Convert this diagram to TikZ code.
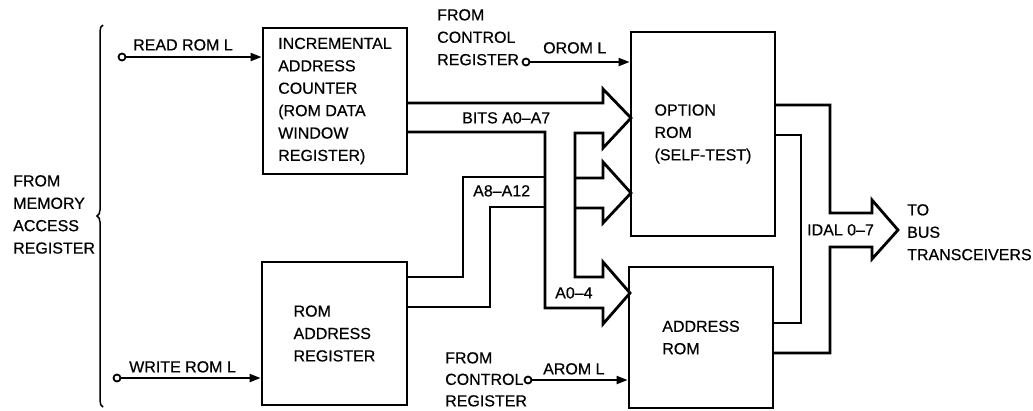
\documentclass[tikz,border=0pt]{standalone}
\usepackage{fontspec}
\setmainfont{Liberation Sans}
\newfontfamily\hvb{Liberation Sans}[FakeBold=0.5]
\usetikzlibrary{arrows.meta,decorations.pathreplacing}
\begin{document}
\begin{tikzpicture}[x=1pt,y=-1pt,
  txt/.style={font=\hvb\fontsize{16}{22.4}\selectfont},
  lbl/.style={txt, align=left, inner sep=0, anchor=north west},
  blk/.style={draw, line width=2.8pt, txt, align=left, inner sep=0},
  sig/.style={line width=2pt, -{Triangle[length=11pt,width=8pt]}},
  term/.style={circle, draw, line width=1.8pt, fill=white, inner sep=0, minimum size=7pt},
  bus/.style={line width=2.8pt, line join=miter},
  brc/.style={line width=1.5pt, decorate, decoration={brace, amplitude=6pt}}]
\useasboundingbox (0,0) rectangle (1033,410);

% blocks
\node[blk, minimum width=144, minimum height=146] (inc) at (335,101)
  {INCREMENTAL\\ADDRESS\\COUNTER\\(ROM DATA\\WINDOW\\REGISTER)};
\node[blk, minimum width=145, minimum height=143] (rar) at (334.5,333.5)
  {ROM\\ADDRESS\\REGISTER};
\node[blk, minimum width=144, minimum height=204] (opt) at (703,134)
  {OPTION\\ROM\\(SELF-TEST)};
\node[blk, minimum width=144, minimum height=141] (arom) at (701,337.5)
  {ADDRESS\\ROM};

% brace and its label
\draw[brc] (103,407) -- (103,25);
\node[lbl] (fmar) at (13,175) {FROM\\MEMORY\\ACCESS\\REGISTER};

% control signals
\node[term] (rd) at (122,57) {};
\node[term] (wr) at (117,378) {};
\node[term] (orom) at (526,62) {};
\node[term] (arm) at (528,380) {};
\draw[sig] (rd) -- (rd -| inc.west);
\draw[sig] (wr) -- (wr -| rar.west);
\draw[sig] (orom) -- (orom -| opt.west);
\draw[sig] (arm) -- (arm -| arom.west);
\node[lbl] (rdl) at (133,39) {READ ROM L};
\node[lbl] (wrl) at (129,361) {WRITE ROM L};
\node[lbl] (fcr1) at (437,9) {FROM\\CONTROL\\REGISTER};
\node[lbl] (oroml) at (543,42) {OROM L};
\node[lbl, font=\hvb\fontsize{16}{21.5}\selectfont] (fcr2) at (445,352) {FROM\\CONTROL\\REGISTER};
\node[lbl] (aroml) at (543,363) {AROM L};

% address bus A0-A7 with arrows into option ROM and address ROM
\draw[bus] (407,103) -- (603,103) -- (603,89) -- (631,118) -- (603,148) -- (603,133)
  -- (575,133) -- (575,277) -- (603,277) -- (603,262) -- (630,293) -- (603,324)
  -- (603,308) -- (545,308) -- (545,132) -- (407,132);
% middle arrow into option ROM
\draw[bus] (575,178) -- (603,178) -- (603,162) -- (631,193) -- (603,223) -- (603,208) -- (575,208);
% A8-A12 bus from ROM address register
\draw[bus] (407,277) -- (463,277) -- (463,177) -- (545,177);
\draw[bus] (407,307) -- (490,307) -- (490,207) -- (545,207);
\node[lbl] (bits) at (462,112) {BITS A0–A7};
\node[lbl] (a812) at (473,185) {A8–A12};
\node[lbl] (a04) at (555,287) {A0–4};

% IDAL output bus
\draw[bus] (775,105) -- (830,105) -- (830,213) -- (872,213) -- (872,200) -- (898,230)
  -- (872,259) -- (872,247) -- (830,247) -- (830,353) -- (773,353);
\draw[bus] (775,135) -- (801,135) -- (801,323) -- (773,323);
\node[lbl] (idal) at (807,224) {IDAL 0–7};
\node[lbl] (tbt) at (907,204) {TO\\BUS\\TRANSCEIVERS};
\end{tikzpicture}
\end{document}
